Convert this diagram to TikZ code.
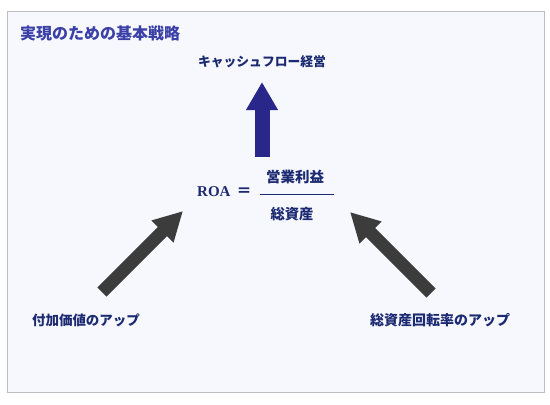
\documentclass[tikz,border=0pt]{standalone}
\usepackage{fontspec}
\setmainfont{Liberation Serif}
\newfontfamily\jp{Noto Sans CJK JP}
\usepackage{tikz}
\usetikzlibrary{arrows.meta,positioning}
\definecolor{panelbg}{HTML}{F7F8FE}
\definecolor{panelline}{HTML}{BDBDC4}
\definecolor{navy}{HTML}{1C2A72}
\definecolor{titleblue}{HTML}{3A40A6}
\definecolor{upblue}{HTML}{29288A}
\definecolor{darkgray}{HTML}{3C3C3C}

\begin{document}
\begin{tikzpicture}[x=1pt, y=-1pt,
  lbl/.style={text=navy, font=\jp\bfseries\fontsize{13.5}{15}\selectfont, inner sep=0pt},
  uparrow/.style={line width=15pt, upblue, -{Triangle[length=28pt, width=30pt]}},
  sidearrow/.style={line width=13pt, darkgray, -{Triangle[length=29pt, width=29pt]}}]
  \useasboundingbox (0,0) rectangle (550,405);
  % panel
  \fill[black!18] (8,12) rectangle (545,393);
  \draw[panelline, fill=panelbg] (7,11) rectangle (544,392);
  \node[anchor=west, text=titleblue, inner sep=0pt,
        font=\jp\bfseries\fontsize{16}{18}\selectfont] (title) at (20,33) {実現のための基本戦略};
  % goal and formula
  \node[lbl, font=\jp\bfseries\fontsize{12.8}{14}\selectfont] (cash) at (262,62) {キャッシュフロー経営};
  \node[anchor=west, text=navy, inner sep=0pt, font=\bfseries\fontsize{15}{17}\selectfont] (roa) at (197,192) {ROA\hspace{6pt}{\jp ＝}};
  \node[lbl, font=\jp\bfseries\fontsize{14.5}{16}\selectfont] (num) at (295,177) {営業利益};
  \node[lbl, font=\jp\bfseries\fontsize{14.3}{16}\selectfont] (den) at (292,214) {総資産};
  \draw[navy, line width=0.9pt] (260,194) -- (334,194);
  % levers
  \node[lbl] (value) at (86,320) {付加価値のアップ};
  \node[lbl, font=\jp\bfseries\fontsize{14}{16}\selectfont] (turn) at (440,320) {総資産回転率のアップ};
  \coordinate (upfoot) at (262,157);
  \coordinate (uphead) at (262,82);
  \coordinate (lfoot) at (102,292);
  \coordinate (lhead) at (183,211);
  \coordinate (rfoot) at (431,293);
  \coordinate (rhead) at (350,212);
  \draw[uparrow] (upfoot) -- (uphead);
  \draw[sidearrow] (lfoot) -- (lhead);
  \draw[sidearrow] (rfoot) -- (rhead);
\end{tikzpicture}
\end{document}
